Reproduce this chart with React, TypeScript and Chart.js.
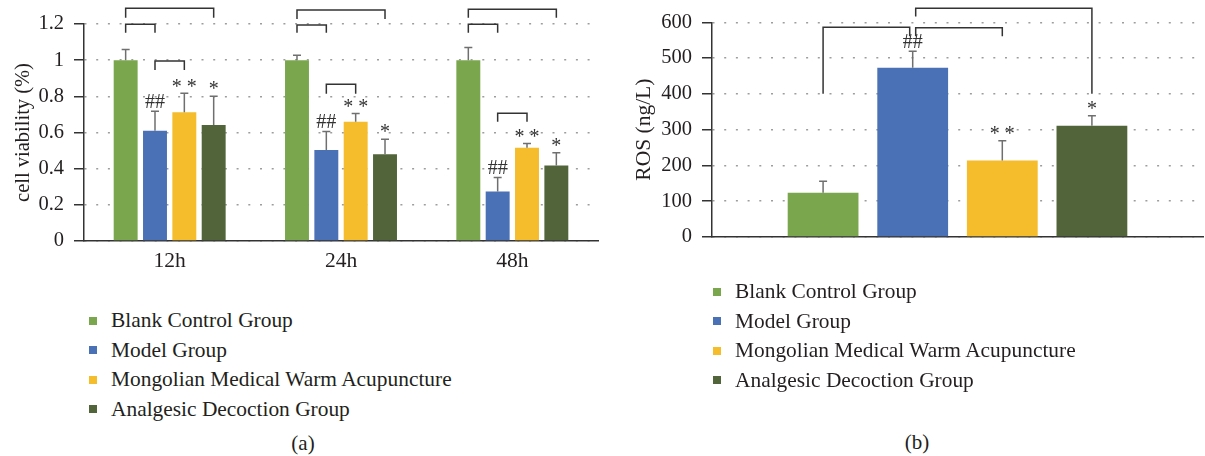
import React, { useEffect, useRef } from "react";
import { Chart, registerables } from "chart.js";

Chart.register(...registerables);

const FONT = '"Liberation Serif", "Times New Roman", serif';
const TEXT = "#231F20";

// ---------- shared groups ----------
const groupNames = [
  "Blank Control Group",
  "Model Group",
  "Mongolian Medical Warm Acupuncture",
  "Analgesic Decoction Group",
];
const groupColors = ["#7AA74D", "#4A70B6", "#F5BC2C", "#52643A"];

// ---------- panel (a): cell viability ----------
const timeCategories = ["12h", "24h", "48h"];
const viabilityTicks = ["0", "0.2", "0.4", "0.6", "0.8", "1", "1.2"];
const viabilityBlank = [1.0, 1.0, 1.0];
const viabilityModel = [0.61, 0.503, 0.274];
const viabilityWarmAcu = [0.712, 0.659, 0.515];
const viabilityDecoction = [0.641, 0.48, 0.418];
const viabilityBlankSd = [0.059, 0.027, 0.07];
const viabilityModelSd = [0.107, 0.103, 0.077];
const viabilityWarmAcuSd = [0.105, 0.046, 0.024];
const viabilityDecoctionSd = [0.16, 0.083, 0.07];
const viabilityMarks = ["", "##", "* *", "*"];
// [category, from group, to group, bar level, left leg end, right leg end]
const viabilityBrackets = [
  [0, 0, 3, 1.287, 1.234, 1.234],
  [0, 0, 1, 1.199, 1.151, 1.151],
  [0, 1, 2, 0.996, 0.946, 0.946],
  [1, 0, 3, 1.278, 1.228, 1.228],
  [1, 0, 1, 1.195, 1.151, 1.151],
  [1, 1, 2, 0.867, 0.814, 0.814],
  [2, 0, 3, 1.282, 1.234, 1.234],
  [2, 0, 1, 1.199, 1.151, 1.151],
  [2, 1, 2, 0.707, 0.659, 0.659],
];

// ---------- panel (b): ROS ----------
const rosCategories = [""];
const rosTicks = ["0", "100", "200", "300", "400", "500", "600"];
const rosMeans = [124, 473, 214, 311];
const rosSd = [32, 46, 55, 28];
const rosMarks = ["", "##", "* *", "*"];
const rosBrackets = [
  [0, 0, 1, 586, 400, 561],
  [0, 1, 2, 585, 561, 561],
  [0, 1, 3, 639, 616, 400],
];

type Bracket = number[];

function makeAnnotations(sds: number[][], marks: string[], brackets: Bracket[], nudge: number) {
  return {
    id: "sigAnnotations",
    afterDatasetsDraw(chart: any) {
      const { ctx } = chart;
      const ys = chart.scales.y;
      ctx.save();
      chart.data.datasets.forEach((ds: any, i: number) => {
        const meta = chart.getDatasetMeta(i);
        meta.data.forEach((el: any, j: number) => {
          const v = ds.data[j] as number;
          const top = ys.getPixelForValue(v + sds[i][j]);
          ctx.strokeStyle = "#6f6f6f";
          ctx.lineWidth = 1.5;
          ctx.beginPath();
          ctx.moveTo(el.x, el.y);
          ctx.lineTo(el.x, top);
          ctx.moveTo(el.x - 4, top);
          ctx.lineTo(el.x + 4, top);
          ctx.stroke();
          const m = marks[i];
          if (m) {
            ctx.fillStyle = "#333";
            ctx.font = `20px ${FONT}`;
            ctx.textAlign = "center";
            ctx.textBaseline = "middle";
            const dy = m.includes("*") ? 3 : 0;
            ctx.fillText(m, el.x, top - 9 + dy);
          }
        });
      });
      ctx.strokeStyle = "#333";
      ctx.lineWidth = 1.5;
      brackets.forEach((b) => {
        const [cat, from, to, level, lEnd, rEnd] = b;
        const a = chart.getDatasetMeta(from).data[cat];
        const c = chart.getDatasetMeta(to).data[cat];
        const x1 = a.x + (from === 1 ? nudge : 0);
        const x2 = c.x - (to === 1 ? nudge : 0);
        ctx.beginPath();
        ctx.moveTo(x1, ys.getPixelForValue(lEnd));
        ctx.lineTo(x1, ys.getPixelForValue(level));
        ctx.lineTo(x2, ys.getPixelForValue(level));
        ctx.lineTo(x2, ys.getPixelForValue(rEnd));
        ctx.stroke();
      });
      ctx.restore();
    },
  };
}

function makeHtmlLegend(el: HTMLElement) {
  return {
    id: "htmlLegend",
    afterUpdate(chart: any) {
      el.innerHTML = "";
      const items = chart.options.plugins.legend.labels.generateLabels(chart);
      items.forEach((item: any) => {
        const row = document.createElement("div");
        row.style.cssText = "display:flex;align-items:center;height:29.5px;white-space:nowrap;";
        const box = document.createElement("span");
        box.style.cssText = `display:inline-block;flex:none;width:8px;height:8px;background:${item.fillStyle};margin-right:14px;`;
        const txt = document.createElement("span");
        txt.textContent = item.text;
        row.append(box, txt);
        el.appendChild(row);
      });
    },
  };
}

function yScale(max: number, step: number, labels: string[], title: string, width: number, titlePad: number, titleSize: number) {
  return {
    min: 0,
    max,
    ticks: {
      stepSize: step,
      color: TEXT,
      padding: 10,
      font: { family: FONT, size: 20.5 },
      callback: (_v: any, idx: number) => labels[idx],
    },
    grid: {
      color: "#9d9d9d",
      lineWidth: 1.5,
      drawTicks: true,
      tickLength: 10,
      tickColor: "#333",
      tickWidth: 1.5,
    },
    border: { display: true, color: "#333", width: 1.5, dash: [2, 9.7] },
    title: {
      display: true,
      text: title,
      color: TEXT,
      font: { family: FONT, size: titleSize },
      padding: { top: titlePad, bottom: 0 },
    },
    afterFit: (s: any) => {
      s.width = width;
    },
  };
}

export default function App() {
  const leftRef = useRef<HTMLCanvasElement>(null);
  const rightRef = useRef<HTMLCanvasElement>(null);
  const leftLegend = useRef<HTMLDivElement>(null);
  const rightLegend = useRef<HTMLDivElement>(null);

  useEffect(() => {
    const viability = [viabilityBlank, viabilityModel, viabilityWarmAcu, viabilityDecoction];
    const viabilitySd = [viabilityBlankSd, viabilityModelSd, viabilityWarmAcuSd, viabilityDecoctionSd];
    const left = new Chart(leftRef.current!, {
      type: "bar",
      data: {
        labels: timeCategories,
        datasets: groupNames.map((g, i) => ({
          label: g,
          data: viability[i],
          backgroundColor: groupColors[i],
          barPercentage: 0.816,
          categoryPercentage: 0.685,
        })),
      },
      options: {
        animation: false,
        responsive: false,
        maintainAspectRatio: false,
        layout: { padding: { top: 24, right: 22, left: 0, bottom: 0 } },
        plugins: { legend: { display: false }, tooltip: { enabled: false } },
        scales: {
          x: {
            grid: { display: false, drawTicks: false },
            border: { display: true, color: "#333", width: 1.5 },
            ticks: { color: TEXT, padding: 7, font: { family: FONT, size: 21.5 } },
            afterFit: (s: any) => {
              s.height = 39;
            },
          },
          y: yScale(1.2, 0.2, viabilityTicks, "cell viability (%)", 84, 11, 20.5),
        },
      } as any,
      plugins: [makeAnnotations(viabilitySd, viabilityMarks, viabilityBrackets, 0), makeHtmlLegend(leftLegend.current!)],
    });

    const right = new Chart(rightRef.current!, {
      type: "bar",
      data: {
        labels: rosCategories,
        datasets: groupNames.map((g, i) => ({
          label: g,
          data: [rosMeans[i]],
          backgroundColor: groupColors[i],
          barPercentage: 0.79,
          categoryPercentage: 0.73,
        })),
      },
      options: {
        animation: false,
        responsive: false,
        maintainAspectRatio: false,
        layout: { padding: { top: 19, right: 2, left: 0, bottom: 0 } },
        plugins: { legend: { display: false }, tooltip: { enabled: false } },
        scales: {
          x: {
            grid: { display: false, drawTicks: false },
            border: { display: true, color: "#333", width: 1.5 },
            ticks: { display: false },
            afterFit: (s: any) => {
              s.height = 43;
            },
          },
          y: yScale(600, 100, rosTicks, "ROS (ng/L)", 92, 11, 21.5),
        },
      } as any,
      plugins: [makeAnnotations(rosSd.map((v) => [v]), rosMarks, rosBrackets, 3), makeHtmlLegend(rightLegend.current!)],
    });

    return () => {
      left.destroy();
      right.destroy();
    };
  }, []);

  const legendStyle: React.CSSProperties = {
    position: "absolute",
    fontFamily: FONT,
    fontSize: 21.4,
    color: TEXT,
  };
  const captionStyle: React.CSSProperties = {
    position: "absolute",
    width: 100,
    textAlign: "center",
    fontFamily: FONT,
    fontSize: 21,
    lineHeight: "24px",
    color: TEXT,
  };

  return (
    <div style={{ position: "absolute", left: 0, top: 0, width: 1205, height: 456, overflow: "hidden", background: "#fff" }}>
      <canvas ref={leftRef} width={620} height={280} style={{ position: "absolute", left: 0, top: 0, width: 620, height: 280 }} />
      <canvas ref={rightRef} width={585} height={280} style={{ position: "absolute", left: 620, top: 0, width: 585, height: 280 }} />
      <div ref={leftLegend} style={{ ...legendStyle, left: 89, top: 306 }} />
      <div ref={rightLegend} style={{ ...legendStyle, left: 713, top: 277 }} />
      <div style={{ ...captionStyle, left: 253, top: 431 }}>(a)</div>
      <div style={{ ...captionStyle, left: 867, top: 430 }}>(b)</div>
    </div>
  );
}
